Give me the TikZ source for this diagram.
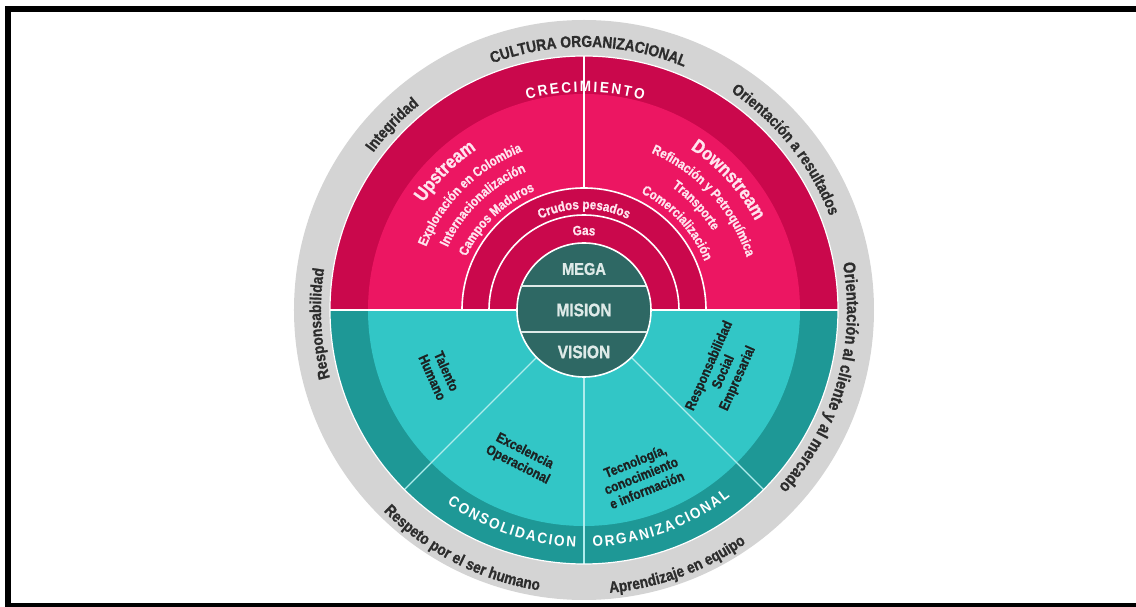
\documentclass[tikz,border=0pt]{standalone}
\usepackage{fontspec}
\setmainfont{Liberation Sans}[FakeStretch=0.86,BoldFeatures={FakeBold=1}]
\newfontfamily\bandfont{Liberation Sans}[FakeStretch=0.9]
\usetikzlibrary{decorations.text}
\definecolor{ringgray}{RGB}{212,212,212}
\definecolor{ringink}{RGB}{45,45,45}
\definecolor{crecpink}{RGB}{236,22,98}
\definecolor{crecdark}{RGB}{202,8,76}
\definecolor{pinkink}{RGB}{255,228,238}
\definecolor{consteal}{RGB}{50,198,198}
\definecolor{consdark}{RGB}{30,152,150}
\definecolor{consline}{RGB}{175,236,236}
\definecolor{consink}{RGB}{28,34,34}
\definecolor{coreteal}{RGB}{46,104,100}
\definecolor{coreink}{RGB}{222,234,232}
\newcommand{\ringfont}{\bfseries\fontsize{16}{16}\selectfont\color{ringink}}
\newcommand{\bandtxt}{\bandfont\bfseries\fontsize{15}{15}\selectfont\color{white}\kern1.9pt}
\newcommand{\bigpink}{\bfseries\fontsize{19}{19}\selectfont\color{pinkink}}
\newcommand{\smallpink}{\bfseries\fontsize{13.5}{13.5}\selectfont\color{pinkink}}
% text set on an arc round the centre: [align] radius, from, to, format, text
\newcommand{\arctext}[6][center]{%
  \path[decorate,decoration={text along path,text align=#1,text={|#5|#6}}]
    (#3:#2) arc[start angle=#3,end angle=#4,radius=#2];}
\tikzset{
  coretext/.style={text=coreink,font=\bfseries\fontsize{18}{18}\selectfont,inner sep=0},
  pillar/.style={text=consink,font=\bfseries\fontsize{14}{15.5}\selectfont,align=center,inner sep=0}
}

\begin{document}
\begin{tikzpicture}[x=1pt,y=1pt,line join=round]
  \useasboundingbox (-584,-297) rectangle (552,310);
  \fill[black] (-579,304) rectangle (552,298);
  \fill[black] (-579,304) rectangle (-573,-297);
  \fill[black] (-579,-293) rectangle (552,-297);

  \fill[ringgray] (0,0) circle (290);
  \fill[crecdark] (-254,0) arc[start angle=180,end angle=0,radius=254] -- cycle;
  \fill[crecpink] (-216,0) arc[start angle=180,end angle=0,radius=216] -- cycle;
  \fill[consdark] (-254,0) arc[start angle=180,end angle=360,radius=254] -- cycle;
  \fill[consteal] (-216,0) arc[start angle=180,end angle=360,radius=216] -- cycle;

  \fill[crecdark,draw=white,line width=1.6] (-122,0) arc[start angle=180,end angle=0,radius=122] -- cycle;
  \draw[white,line width=1.6] (-95,0) arc[start angle=180,end angle=0,radius=95];
  \draw[white,line width=1.2] (90:122) -- (90:254);
  \foreach \a in {225,270,315}
    \draw[consline,line width=1.2] (\a:67) -- (\a:254);
  \draw[white,line width=2.5] (-254,0) -- (254,0);
  \draw[white,line width=1.2] (0,0) circle (254);

  \fill[coreteal,draw=white,line width=1.6] (0,0) circle (67);
  \draw[coreink,line width=1.5] (-62.5,24) -- (62.5,24);
  \draw[coreink,line width=1.5] (-63.3,-22) -- (63.3,-22);
  \node[coretext,font=\bfseries\fontsize{17}{17}\selectfont] (mega) at (0,41) {MEGA};
  \node[coretext] (mision) at (0,0) {MISION};
  \node[coretext] (vision) at (0,-42) {VISION};

  \arctext{263}{159}{19}{\ringfont}{CULTURA ORGANIZACIONAL}
  \arctext{263}{176}{96}{\ringfont}{Integridad}
  \arctext{263}{78.5}{-1.5}{\ringfont}{Orientación a resultados}
  \arctext{263}{34}{-66}{\ringfont\fontsize{17}{17}\selectfont}{Orientación al cliente y al mercado}
  \arctext{263}{223}{143}{\ringfont}{Responsabilidad}
  \arctext{284}{193}{293}{\ringfont}{Respeto por el ser humano}
  \arctext{284}{240}{340}{\ringfont}{Aprendizaje en equipo}

  \arctext{218}{150}{30}{\bandtxt\kern0.4pt}{CRECIMIENTO}
  \arctext[right]{237}{200}{268}{\bandtxt}{CONSOLIDACION}
  \arctext[left]{237}{271.7}{340}{\bandtxt}{ORGANIZACIONAL}

  \arctext{193}{205}{65}{\bigpink}{Upstream}
  \arctext{170}{205}{64.4}{\smallpink}{Exploración en Colombia}
  \arctext{150}{204}{64}{\smallpink}{Internacionalización}
  \arctext{129}{204}{64}{\smallpink}{Campos Maduros}
  \arctext{193}{112}{-28}{\bigpink}{Downstream}
  \arctext{171}{112.4}{-27.6}{\smallpink}{Refinación y Petroquímica}
  \arctext{151}{113}{-27}{\smallpink}{Transporte}
  \arctext{130}{113}{-27}{\smallpink}{Comercialización}
  \arctext{101}{160}{20}{\smallpink}{Crudos pesados}
  \arctext{75}{150}{30}{\smallpink}{Gas}

  \node[pillar,rotate=-66] (talento) at (204:158) {Talento\\Humano};
  \node[pillar,rotate=-27] (excelencia) at (247:161) {Excelencia\\Operacional};
  \node[pillar,rotate=22] (tecnologia) at (289:175) {Tecnología,\\conocimiento\\e información};
  \node[pillar,rotate=66] (rse) at (336:153) {Responsabilidad\\Social\\Empresarial};
\end{tikzpicture}
\end{document}
